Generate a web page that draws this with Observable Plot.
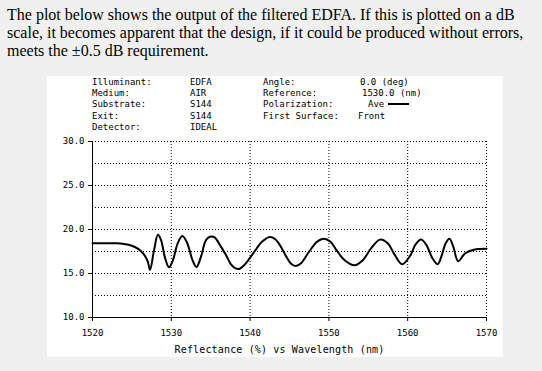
<!DOCTYPE html>
<html>
<head>
<meta charset="utf-8">
<script src="https://cdn.jsdelivr.net/npm/d3@7"></script>
<script src="https://cdn.jsdelivr.net/npm/@observablehq/plot@0.6"></script>
<style>
  html, body { margin: 0; padding: 0; background: #f0f0f0; }
  body { width: 542px; height: 371px; position: relative; overflow: hidden; }
  #intro { position: absolute; left: 7px; top: 6px; margin: 0; font-family: "Liberation Serif", "Times New Roman", serif; font-size: 16px; line-height: 18px; color: #000; white-space: nowrap; }
  #panel { position: absolute; left: 47px; top: 76px; width: 456px; height: 281px; background: #fff; }
  #header { position: absolute; left: 0; top: 1px; width: 456px; height: 56px; font-family: "DejaVu Sans Mono", monospace; font-size: 9px; line-height: 11.2px; color: #000; }
  .col { position: absolute; top: 0; white-space: pre; }
  .col div { height: 11.2px; }
  #chart { position: absolute; left: 0; top: 54px; }
  .legline { display: inline-block; width: 21px; height: 2px; background: #000; vertical-align: middle; margin-left: 4px; position: relative; top: -1px; }
</style>
</head>
<body>
<p id="intro">The plot below shows the output of the filtered EDFA. If this is plotted on a dB<br>scale, it becomes apparent that the design, if it could be produced without errors,<br>meets the ±0.5 dB requirement.</p>
<div id="panel">
  <div id="header"></div>
  <div id="chart"></div>
</div>
<script>
// Header table
const headerLabels1 = ["Illuminant:", "Medium:", "Substrate:", "Exit:", "Detector:"];
const headerValues1 = ["EDFA", "AIR", "S144", "S144", "IDEAL"];
const headerLabels2 = ["Angle:", "Reference:", "Polarization:", "First Surface:"];
const headerValues2 = ["0.0 (deg)", "1530.0 (nm)", "Ave", "Front"];

// Curve data: wavelength (nm) and reflectance (%)
const wavelength = [1520, 1521, 1522, 1523, 1524, 1525, 1525.8, 1526.5, 1527.0, 1527.3,
  1527.8, 1528.3, 1528.7, 1529.2, 1529.7, 1530.2, 1530.8, 1531.4, 1532.0, 1532.7,
  1533.2, 1533.8, 1534.4, 1535.0, 1535.5, 1536.2, 1537.0, 1537.7, 1538.5, 1539.3,
  1540.0, 1540.8, 1541.5, 1542.5, 1543.2, 1543.8, 1544.6, 1545.2, 1545.8, 1546.5,
  1547.5, 1548.5, 1549.35, 1550.2, 1551.0, 1552.0, 1553.25, 1554.3, 1555.3, 1556.5,
  1557.5, 1558.3, 1559.3, 1560.3, 1561.0, 1561.7, 1562.4, 1563.1, 1563.8, 1564.3,
  1564.8, 1565.3, 1565.8, 1566.4, 1567.3, 1568.4, 1570];
const reflectance = [18.45, 18.45, 18.45, 18.43, 18.35, 18.15, 17.8, 17.2, 16.4, 15.4,
  17.6, 19.4, 18.8, 16.8, 15.7, 16.5, 18.4, 19.25, 18.5, 16.5,
  15.75, 17.0, 18.8, 19.2, 19.1, 18.2, 17.0, 15.9, 15.5, 16.0,
  16.8, 17.8, 18.6, 19.15, 18.9, 18.2, 16.9, 16.1, 15.85, 16.2,
  17.5, 18.6, 18.95, 18.6, 17.6, 16.5, 15.93, 16.5, 17.8, 18.85,
  18.4, 17.2, 16.05, 17.0, 18.3, 18.85, 18.2, 16.8, 16.05, 17.0,
  18.4, 18.95, 18.0, 16.4, 17.3, 17.7, 17.8];

const xTicks = [1520, 1530, 1540, 1550, 1560, 1570];
const yTicks = [10, 15, 20, 25, 30];
const xGrid = [1530, 1540, 1550, 1560, 1570];
const yGrid = [12.5, 15, 17.5, 20, 22.5, 25, 27.5, 30];
const axisTitle = ["Reflectance (%) vs Wavelength (nm)"];

// Build header
const header = document.getElementById("header");
function addCol(items, left, offsets) {
  const c = document.createElement("div");
  c.className = "col";
  c.style.left = left + "px";
  items.forEach((t, i) => {
    const d = document.createElement("div");
    d.textContent = t;
    if (offsets && offsets[i]) d.style.marginLeft = offsets[i] + "px";
    if (t === "Ave") {
      const s = document.createElement("span");
      s.className = "legline";
      d.appendChild(s);
    }
    c.appendChild(d);
  });
  header.appendChild(c);
}
addCol(headerLabels1, 45);
addCol(headerValues1, 143);
addCol(headerLabels2, 216);
addCol(headerValues2, 313, [0, 2, 8, -2]);

const data = wavelength.map((w, i) => ({w, r: reflectance[i]}));

const chart = Plot.plot({
  width: 456,
  height: 227,
  marginLeft: 45,
  marginRight: 17,
  marginTop: 11,
  marginBottom: 40,
  style: {fontFamily: "DejaVu Sans Mono, monospace", fontSize: "9px", background: "white", color: "black", overflow: "visible"},
  x: {domain: [1520, 1570]},
  y: {domain: [10, 30]},
  marks: [
    Plot.ruleY(yGrid, {stroke: "black", strokeDasharray: "1,2"}),
    Plot.ruleX(xGrid, {stroke: "black", strokeDasharray: "1,2"}),
    Plot.axisX({ticks: xTicks, tickSize: 4, tickPadding: 8, label: null, tickFormat: d => String(d)}),
    Plot.axisY({ticks: yTicks, tickSize: 4, tickPadding: 4, label: null, tickFormat: d => d.toFixed(1)}),
    Plot.ruleX([1520], {stroke: "black"}),
    Plot.ruleY([10], {stroke: "black"}),
    Plot.line(data, {x: "w", y: "r", stroke: "black", strokeWidth: 2, curve: "catmull-rom"}),
    Plot.text(axisTitle, {frameAnchor: "bottom", lineAnchor: "middle", dy: 32, dx: -10, fill: "black", fontSize: 10, style: "letter-spacing:0.15px"})
  ]
});
chart.querySelectorAll("text").forEach(t => {
  if (t.textContent === axisTitle[0]) t.setAttribute("letter-spacing", "0.15");
});
document.getElementById("chart").appendChild(chart);
</script>
</body>
</html>
